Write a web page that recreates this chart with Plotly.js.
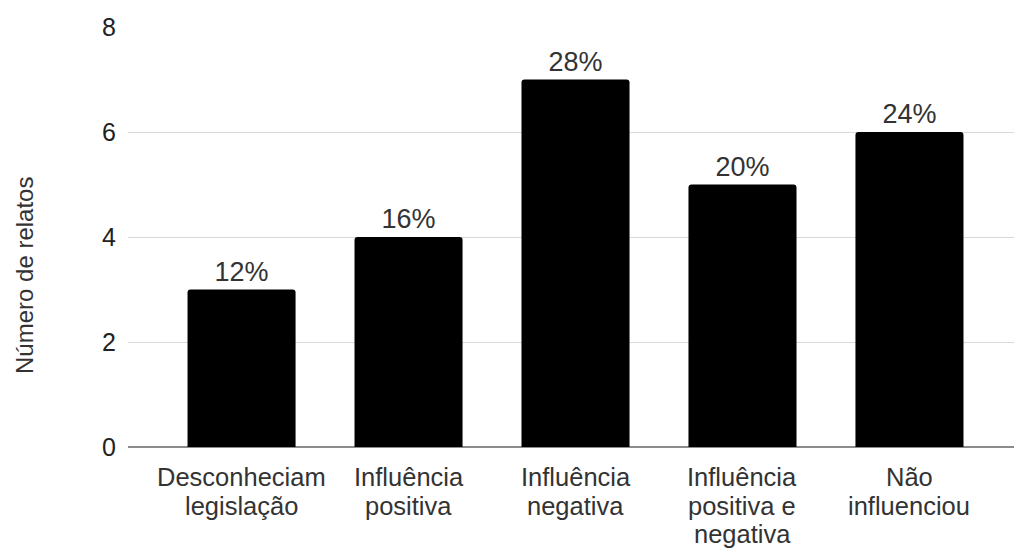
<!DOCTYPE html>
<html>
<head>
<meta charset="utf-8">
<script src="https://cdn.plot.ly/plotly-3.0.1.min.js"></script>
<style>
  html, body { margin: 0; padding: 0; background: #fff; }
  #chart { width: 1014px; height: 548px; }
</style>
</head>
<body>
<div id="chart"></div>
<script>
// Categorias (cada linha do rótulo do eixo x)
const categories = [
  ['Desconheciam', 'legislação'],
  ['Influência', 'positiva'],
  ['Influência', 'negativa'],
  ['Influência', 'positiva e', 'negativa'],
  ['Não', 'influenciou']
];

// Número de relatos por categoria
const counts = [3, 4, 7, 5, 6];

// Marcas do eixo y
const yTicks = [0, 2, 4, 6, 8];

// Percentual de cada categoria sobre o total de relatos
const total = counts.reduce((a, b) => a + b, 0);
const percentLabels = counts.map(v => Math.round(v / total * 100) + '%');

const FONT = 'Liberation Sans, Arial, sans-serif';
const positions = categories.map((_, i) => i);

const trace = {
  type: 'bar',
  x: positions,
  y: counts,
  width: 0.647,
  marker: { color: '#000000', line: { width: 0 } },
  text: percentLabels,
  textposition: 'outside',
  cliponaxis: false,
  textfont: { family: FONT, size: 27, color: '#333333' },
  hoverinfo: 'skip'
};

// Rótulos das categorias, uma anotação por linha (espaçamento compacto)
const LINE_GAP = 28.5;
const categoryAnnotations = [];
categories.forEach((lines, i) => {
  lines.forEach((line, k) => {
    categoryAnnotations.push({
      x: i, xref: 'x',
      y: 0, yref: 'paper',
      yanchor: 'top', xanchor: 'center',
      yshift: -(14 + k * LINE_GAP),
      text: line,
      showarrow: false,
      font: { family: FONT, size: 25.5, color: '#333333' }
    });
  });
});

const yTitle = {
  text: 'Número de relatos',
  xref: 'paper', yref: 'paper',
  x: -0.1174, y: 0.4095,
  xanchor: 'center', yanchor: 'middle',
  textangle: -90,
  showarrow: false,
  font: { family: FONT, size: 24, color: '#333333' }
};

const layout = {
  width: 1014,
  height: 548,
  margin: { l: 128, r: 0, t: 27, b: 101, pad: 0 },
  paper_bgcolor: '#ffffff',
  plot_bgcolor: '#ffffff',
  showlegend: false,
  barcornerradius: 3,
  font: { family: FONT, color: '#333333' },
  xaxis: {
    range: [-0.68, 4.626],
    showticklabels: false,
    showgrid: false,
    zeroline: false,
    showline: false,
    ticks: '',
    fixedrange: true
  },
  yaxis: {
    range: [0, 8],
    tickmode: 'array',
    tickvals: yTicks,
    ticktext: yTicks.map(String),
    tickfont: { family: FONT, size: 25, color: '#222222' },
    showgrid: true,
    gridcolor: '#d9d9d9',
    gridwidth: 1,
    zeroline: true,
    zerolinecolor: '#8c8c8c',
    zerolinewidth: 1.5,
    showline: false,
    ticks: '',
    ticklabelstandoff: 11,
    automargin: false,
    fixedrange: true
  },
  annotations: categoryAnnotations.concat([yTitle])
};

Plotly.newPlot('chart', [trace], layout, { displayModeBar: false, staticPlot: true });
</script>
</body>
</html>
